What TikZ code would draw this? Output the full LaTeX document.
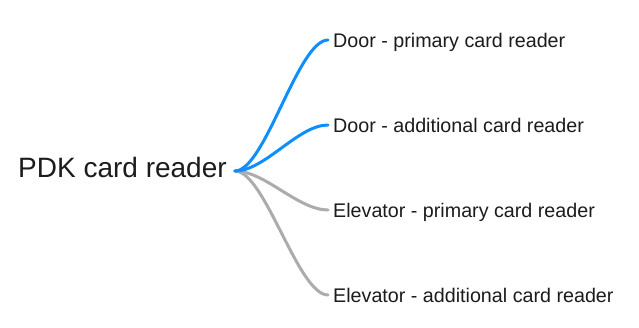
\documentclass[tikz,border=0pt]{standalone}
\usepackage{fontspec}
\setmainfont{Liberation Sans}
\definecolor{branchblue}{RGB}{14,142,255}
\definecolor{branchgray}{RGB}{172,172,172}
\definecolor{txt}{RGB}{28,28,28}
\begin{document}
\begin{tikzpicture}[x=1pt,y=-1pt,
  rootnode/.style={anchor=west,inner sep=0pt,font=\fontsize{28}{30}\selectfont,text=txt,text height=20pt,text depth=0pt},
  leafnode/.style={anchor=west,inner sep=0pt,font=\fontsize{19.7}{22}\selectfont,text=txt,text height=14pt,text depth=0pt},
  branch/.style={line width=3pt,line cap=round}
]
\useasboundingbox[fill=white] (0,0) rectangle (639,327);
\node[rootnode] (root) at (18,167) {PDK card reader};
\node[leafnode] (c1) at (333,40) {Door - primary card reader};
\node[leafnode] (c2) at (333,125) {Door - additional card reader};
\node[leafnode] (c3) at (333,210) {Elevator - primary card reader};
\node[leafnode] (c4) at (333,295) {Elevator - additional card reader};
\coordinate (s) at ([xshift=8pt,yshift=-4pt]root.east);
\foreach \c/\col in {c4/branchgray,c3/branchgray,c2/branchblue,c1/branchblue}{
  \draw[branch,\col] (s) .. controls ([xshift=30pt]s) and ([xshift=-35pt]\c.west) .. ([xshift=-5pt]\c.west);
}
\end{tikzpicture}
\end{document}
